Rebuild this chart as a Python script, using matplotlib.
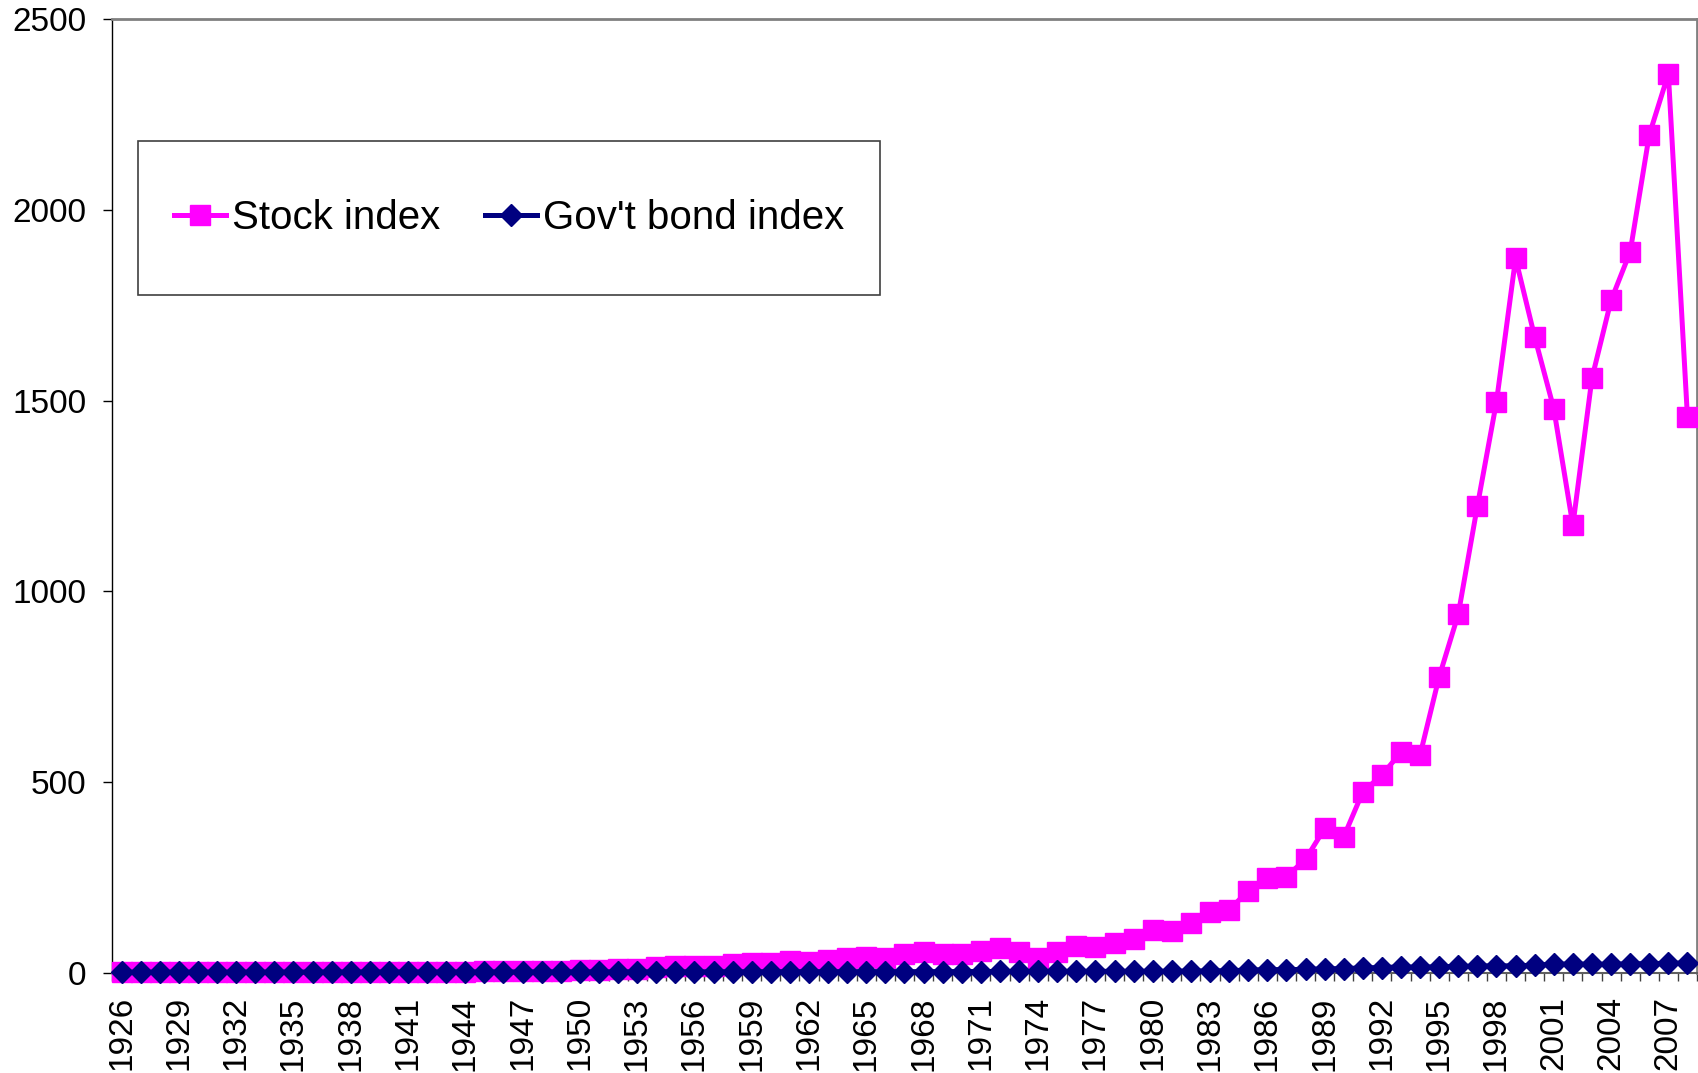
import numpy as np
import matplotlib
matplotlib.use("Agg")
import matplotlib.pyplot as plt
from matplotlib.patches import Rectangle

plt.rcParams['font.family'] = ['Liberation Sans', 'DejaVu Sans']

# years on the category axis
years = list(range(1926, 2009))

# stock index
stock_index = [
    1.0, 1.3, 1.8, 1.6, 1.2, 0.8, 0.8, 1.1, 1.2, 1.6,          # 1926-1935
    2.1, 1.4, 1.8, 1.8, 1.6, 1.5, 1.8, 2.2, 2.6, 3.5,          # 1936-1945
    3.3, 3.4, 3.6, 4.3, 5.8, 7.0, 9, 9, 14, 17,                # 1946-1955
    18, 16, 23, 25, 25, 31, 28, 32, 37, 42,                    # 1956-1965
    39, 48, 55, 49, 49, 57, 65, 54, 39, 54,                    # 1966-1975
    70, 68, 77, 87, 113, 109, 131, 160, 164, 215,              # 1976-1985
    249, 252, 297, 378, 356, 474, 518, 578, 571, 776,          # 1986-1995
    940, 1224, 1497, 1873, 1667, 1479, 1173, 1559, 1763, 1890, # 1996-2005
    2197, 2357, 1457,                                          # 2006-2008
]

# government bond index
bond_index = [
    1.0, 1.1, 1.1, 1.2, 1.2, 1.2, 1.3, 1.3, 1.4, 1.4,          # 1926-1935
    1.5, 1.5, 1.5, 1.6, 1.6, 1.6, 1.6, 1.7, 1.7, 1.8,          # 1936-1945
    1.8, 1.8, 1.8, 1.9, 1.9, 1.9, 1.9, 2.0, 2.0, 2.0,          # 1946-1955
    2.0, 2.1, 2.1, 2.1, 2.2, 2.2, 2.3, 2.3, 2.4, 2.4,          # 1956-1965
    2.5, 2.5, 2.5, 2.5, 2.7, 2.8, 2.9, 2.9, 2.9, 3.0,          # 1966-1975
    3.2, 3.3, 3.3, 3.3, 3.4, 3.5, 4.0, 4.3, 5.0, 6.5,          # 1976-1985
    7.8, 7.8, 8.5, 9.8, 10.5, 12.3, 13.3, 15.0, 14.0, 15.5,    # 1986-1995
    16.0, 17.0, 18.0, 17.5, 19.5, 22.0, 22.5, 22.0, 22.0, 23.0, # 1996-2005
    23.5, 24.5, 25.0,                                          # 2006-2008
]

y_ticks = [0, 500, 1000, 1500, 2000, 2500]

fig = plt.figure(figsize=(16.99, 10.73), dpi=100)
ax = fig.add_axes([112 / 1699, 1 - 972.6 / 1073, 1585 / 1699, 953.3 / 1073])

ax.plot(years, stock_index, color='#FF00FF', lw=3.6, marker='s', ms=14,
        label='Stock index', clip_on=False, zorder=3)
ax.plot(years, bond_index, color='#000080', lw=3.6, marker='D', ms=11.5,
        label="Gov't bond index", clip_on=False, zorder=4)

ax.set_xlim(1925.5, 2008.5)
ax.set_ylim(0, 2500)
ax.set_yticks(y_ticks)
ax.tick_params(axis='y', labelsize=24, length=6.5, width=1, pad=12)

# labels every third year, ticks between categories
ax.set_xticks(years[::3])
ax.set_xticklabels([str(y) for y in years[::3]], rotation=90, fontsize=24)
ax.set_xticks(np.arange(1925.5, 2009, 1), minor=True)
ax.tick_params(axis='x', which='major', length=0, pad=17)
ax.tick_params(axis='x', which='minor', length=6, width=1, color='#404040')

for side in ['top', 'right']:
    ax.spines[side].set_color('#808080')
    ax.spines[side].set_linewidth(2)
ax.spines['left'].set_color('black')
ax.spines['left'].set_linewidth(1)
ax.spines['bottom'].set_color('#606060')
ax.spines['bottom'].set_linewidth(1.5)

# legend box, drawn as its own rectangle so it can be as tall as the original
box = (0.0164, 0.7108, 0.468, 0.1615)
ax.add_patch(Rectangle(box[:2], box[2], box[3], transform=ax.transAxes,
                       facecolor='white', edgecolor='#404040', lw=1.2,
                       zorder=5, clip_on=False))
leg = ax.legend(loc='center', bbox_to_anchor=box, ncol=2, fontsize=29,
                frameon=False, handlelength=1.3, handletextpad=0.15,
                columnspacing=1.1, borderaxespad=0)
leg.set_zorder(6)

fig.savefig('out.png', dpi=100, facecolor='white')
